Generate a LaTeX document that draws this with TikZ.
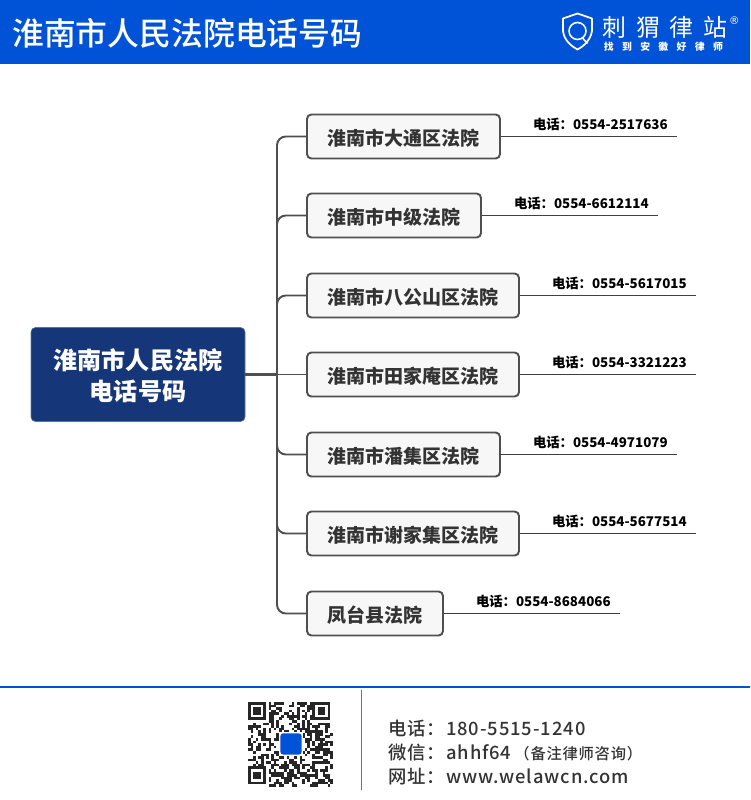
\documentclass[tikz,border=0pt]{standalone}
\usepackage{fontspec}
\setmainfont{Noto Sans CJK SC}
\newfontfamily\midfont{Noto Sans CJK SC Medium}
\newfontfamily\footfont[LetterSpace=5]{Noto Sans CJK SC Medium}
\newfontfamily\brandfont[LetterSpace=40]{Noto Sans CJK SC}
\newfontfamily\slogfont[LetterSpace=85]{Noto Sans CJK SC}
\newfontfamily\regfont{DejaVu Sans}
\usepackage{xcolor}
\usetikzlibrary{positioning, calc}
\definecolor{bandblue}{HTML}{0052D6}
\definecolor{rootblue}{HTML}{16367A}
\definecolor{linegray}{HTML}{4F4F4F}
\definecolor{boxfill}{HTML}{F7F7F7}
\definecolor{inkgray}{HTML}{333333}

\begin{document}
\begin{tikzpicture}[
    root/.style = {rectangle, fill=rootblue, draw=rootblue!70!white, line width=0.3pt, rounded corners=2.5pt, align=center, text=white, font=\fontsize{13.7}{17.5}\selectfont\bfseries, minimum width=4.28cm, minimum height=1.88cm, inner sep=0pt, text depth=0pt},
    court/.style = {rectangle, draw=linegray, fill=boxfill, line width=1.1pt, rounded corners=2.5pt, text=inkgray, font=\fontsize{10.8}{13}\selectfont\bfseries, minimum height=0.88cm, inner sep=0pt, text height=0.36cm, text depth=0cm},
    branch/.style = {draw=linegray, line width=1.1pt, rounded corners=5pt},
    rootstem/.style = {draw=linegray, line width=1.9pt},
    wire/.style = {draw=black!75, line width=0.45pt},
    tel/.style = {anchor=south east, font=\fontsize{7.6}{9}\selectfont\bfseries, text=black, inner xsep=0.18cm, inner ysep=0.11cm},
    foot/.style = {anchor=west, text=inkgray, font=\fontsize{10.45}{12}\footfont, inner sep=0pt}
]
\useasboundingbox (0, 0) rectangle (15, -16);

% Header
\fill [bandblue] (0, 0) rectangle (15, -1.28);
\node (title) [anchor=west, text=white, inner sep=0pt, font=\fontsize{18.1}{20}\midfont] at (0.24, -0.67) {淮南市人民法院电话号码};

% Logo
\draw [white, line width=1pt, line join=round] (11.26, -0.37) -- (11.26, -0.62) .. controls (11.28, -0.8) and (11.42, -0.92) .. (11.55, -0.99) .. controls (11.68, -0.92) and (11.81, -0.8) .. (11.84, -0.62) -- (11.84, -0.37) -- (11.55, -0.27) -- cycle;
\draw [white, line width=0.9pt] (11.55, -0.62) circle (0.17);
\draw [white, line width=0.9pt] (11.65, -0.76) -- (11.75, -0.87);
\node (brand) [anchor=west, text=white, inner sep=0pt, font=\fontsize{13.6}{15}\brandfont] at (12.05, -0.54) {刺猬律站};
\node (slogan) [anchor=west, text=white, inner sep=0pt, font=\fontsize{5.6}{7}\slogfont\bfseries] at (12.07, -0.93) {找到安徽好律师};
\node (reg) [text=white, inner sep=0pt, font=\fontsize{6}{7}\regfont] at (14.69, -0.42) {®};

% Nodes
\node (rm) [root] at (2.76, -7.49) {淮南市人民法院\\电话号码};
\node (dt) [court, minimum width=3.86cm] at (8.07, -2.73) {淮南市大通区法院};
\node (zj) [court, minimum width=3.48cm] at (7.88, -4.31) {淮南市中级法院};
\node (bg) [court, minimum width=4.24cm] at (8.26, -5.91) {淮南市八公山区法院};
\node (tj) [court, minimum width=4.24cm] at (8.26, -7.49) {淮南市田家庵区法院};
\node (pj) [court, minimum width=3.86cm] at (8.07, -9.09) {淮南市潘集区法院};
\node (xj) [court, minimum width=4.24cm] at (8.26, -10.67) {淮南市谢家集区法院};
\node (ft) [court, minimum width=2.72cm] at (7.5, -12.27) {凤台县法院};

% Branches
\coordinate (jn) at (5.54, -7.49);
\draw [rootstem] (rm.east) -- (jn);
\draw [branch] (jn) |- (dt.west);
\draw [branch] (jn) |- (zj.west);
\draw [branch] (jn) |- (bg.west);
\draw [branch] (jn) -- (tj.west);
\draw [branch] (jn) |- (pj.west);
\draw [branch] (jn) |- (xj.west);
\draw [branch] (jn) |- (ft.west);

% Phone numbers
\coordinate (dtend) at (13.54, -2.73);
\coordinate (zjend) at (13.16, -4.31);
\coordinate (bgend) at (13.92, -5.91);
\coordinate (tjend) at (13.92, -7.49);
\coordinate (pjend) at (13.54, -9.09);
\coordinate (xjend) at (13.92, -10.67);
\coordinate (ftend) at (12.4, -12.27);
\draw [wire] (dt.east) -- (dtend);
\draw [wire] (zj.east) -- (zjend);
\draw [wire] (bg.east) -- (bgend);
\draw [wire] (tj.east) -- (tjend);
\draw [wire] (pj.east) -- (pjend);
\draw [wire] (xj.east) -- (xjend);
\draw [wire] (ft.east) -- (ftend);
\node (dttel) [tel] at (dtend) {电话：0554-2517636};
\node (zjtel) [tel] at (zjend) {电话：0554-6612114};
\node (bgtel) [tel] at (bgend) {电话：0554-5617015};
\node (tjtel) [tel] at (tjend) {电话：0554-3321223};
\node (pjtel) [tel] at (pjend) {电话：0554-4971079};
\node (xjtel) [tel] at (xjend) {电话：0554-5677514};
\node (fttel) [tel] at (ftend) {电话：0554-8684066};

% Footer
\draw [bandblue, line width=1.1pt] (0, -13.74) -- (15, -13.74);
\draw [black!55, line width=0.5pt] (7.22, -13.8) -- (7.22, -15.8);
\node (phone) [foot] at (7.76, -14.57) {电话：180-5515-1240};
\node (wechat) [foot] at (7.76, -15.05) {微信：ahhf64\hspace{0.06cm}{\fontsize{8.7}{10}\selectfont（备注律师咨询）}};
\node (web) [foot] at (7.76, -15.54) {网址：www.welawcn.com};

% QR code
\begin{scope}[shift={(4.96, -14.04)}, x=0.0515cm, y=-0.0515cm]
\pgfmathsetseed{64}
\foreach \col in {0,...,32} {
  \foreach \row in {0,...,32} {
    \pgfmathsetmacro{\cell}{rnd}
    \ifdim\cell pt<0.5pt
      \fill [black!85] (\col, \row) rectangle +(1.02, 1.02);
    \fi
  }
}
\foreach \ox/\oy in {0/0, 25/0, 0/25} {
  \fill [white] (\ox-0.0, \oy-0.0) rectangle +(8, 8);
  \fill [black!85] (\ox, \oy) rectangle +(7, 7);
  \fill [white] (\ox+1, \oy+1) rectangle +(5, 5);
  \fill [black!85] (\ox+2, \oy+2) rectangle +(3, 3);
}
\fill [white] (12.2, 11.8) rectangle (21.2, 20.8);
\fill [bandblue, rounded corners=1.5pt] (12.6, 12.2) rectangle (20.8, 20.4);
\end{scope}

\end{tikzpicture}
\end{document}
